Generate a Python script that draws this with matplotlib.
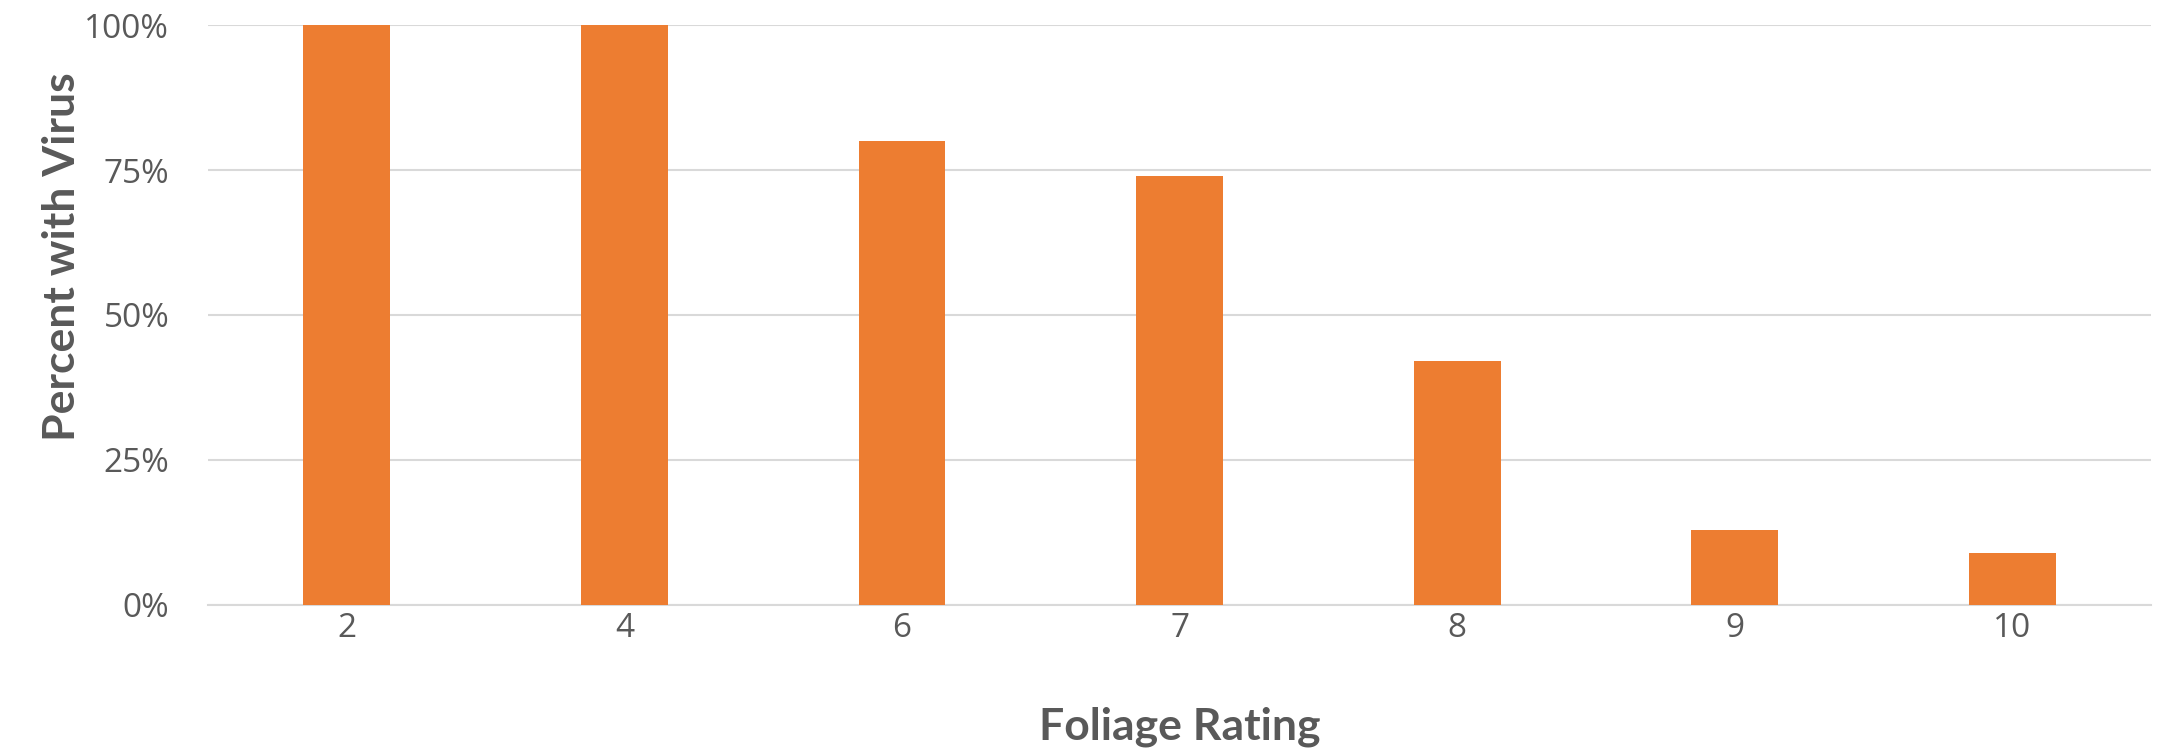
import matplotlib
matplotlib.use("Agg")
import matplotlib.pyplot as plt
from matplotlib.ticker import FuncFormatter

ratings = ["2", "4", "6", "7", "8", "9", "10"]
percent_with_virus = [100, 100, 80, 74, 42, 13, 9]
y_ticks = [0, 25, 50, 75, 100]

bar_color = "#ED7D31"
grid_color = "#D9D9D9"
text_color = "#595959"

fig = plt.figure(figsize=(21.63, 7.49), dpi=100)
ax = fig.add_axes([0.0962, 0.1923, 0.8983, 0.7743])

x = range(len(ratings))
ax.bar(x, percent_with_virus, width=0.313, color=bar_color, zorder=3)

ax.set_xlim(-0.5, len(ratings) - 0.5)
ax.set_ylim(0, 100)
ax.set_yticks(y_ticks)
ax.yaxis.set_major_formatter(FuncFormatter(lambda v, _: f"{v:.0f}%"))
ax.set_xticks(list(x))
ax.set_xticklabels(ratings)

ax.grid(axis="y", color=grid_color, linewidth=1.5, zorder=0)
ax.set_axisbelow(True)
for side in ["left", "right", "top"]:
    ax.spines[side].set_visible(False)
ax.spines["bottom"].set_color(grid_color)
ax.spines["bottom"].set_linewidth(1.5)
ax.spines["bottom"].set_zorder(0)

ax.tick_params(axis="both", length=0, labelsize=24, labelcolor=text_color)
ax.tick_params(axis="y", pad=28)
ax.tick_params(axis="x", pad=5)
for lab in ax.get_xticklabels() + ax.get_yticklabels():
    lab.set_family("Open Sans")

ax.set_ylabel("Percent with Virus", fontsize=32, fontweight="bold",
              color=text_color, family="Lato", labelpad=2)
ax.yaxis.label.set_y(0.6)
ax.set_xlabel("Foliage Rating", fontsize=32, fontweight="bold",
              color=text_color, family="Lato", labelpad=44)

fig.savefig("out.png", dpi=100)
